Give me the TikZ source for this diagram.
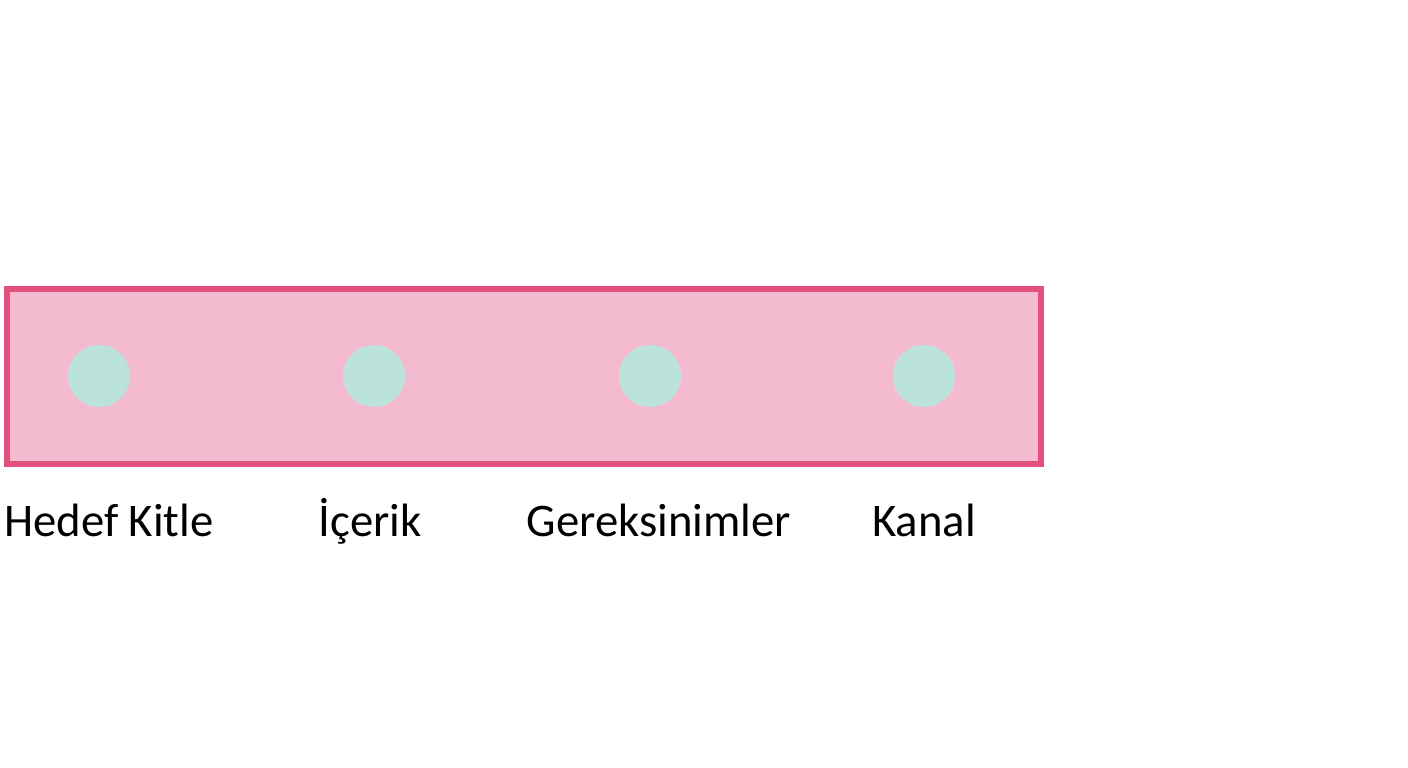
\documentclass[tikz,border=0pt]{standalone}
\usepackage{fontspec}
\setmainfont{Carlito}
\definecolor{bandpink}{HTML}{F4BBD0}
\definecolor{edgepink}{HTML}{E2507C}
\definecolor{dotmint}{HTML}{BCE3DA}
\begin{document}
\begin{tikzpicture}
\useasboundingbox (0,0) rectangle (14.08,7.68);
\node[draw=edgepink, line width=0.6mm, fill=bandpink, minimum width=10.34cm, minimum height=1.75cm, inner sep=0pt] (band) at (5.24,3.915) {};

\node[circle, fill=dotmint, minimum size=0.62cm, inner sep=0pt] (1) at (0.99,3.92) {};
\node[circle, fill=dotmint, minimum size=0.62cm, inner sep=0pt] (2) at (3.74,3.92) {};
\node[circle, fill=dotmint, minimum size=0.62cm, inner sep=0pt] (3) at (6.50,3.92) {};
\node[circle, fill=dotmint, minimum size=0.62cm, inner sep=0pt] (4) at (9.24,3.92) {};

\node[font=\fontsize{13.3}{16}\selectfont, anchor=base] (hedef) at (1.09,2.31) {Hedef Kitle};
\node[font=\fontsize{13.3}{16}\selectfont, anchor=base] (icerik) at (3.70,2.31) {İçerik};
\node[font=\fontsize{13.3}{16}\selectfont, anchor=base] (gerek) at (6.59,2.31) {Gereksinimler};
\node[font=\fontsize{13.3}{16}\selectfont, anchor=base] (kanal) at (9.24,2.31) {Kanal};
\end{tikzpicture}
\end{document}
